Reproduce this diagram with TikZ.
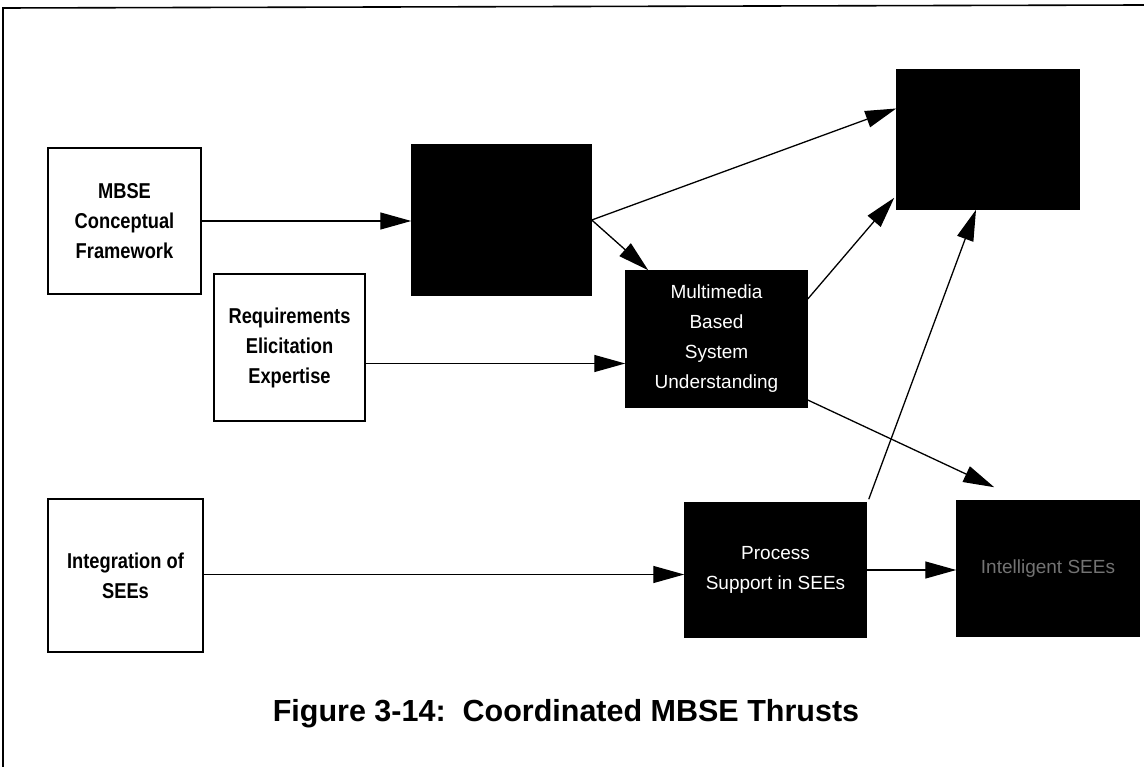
\documentclass[tikz,border=0pt]{standalone}
\usepackage{fontspec}
\setmainfont{Liberation Sans}
\newfontfamily\narrowfont{Liberation Sans}[FakeStretch=0.85]
\usetikzlibrary{arrows.meta,calc}

\tikzset{
  lightbox/.style={draw=black, line width=1.8pt, fill=white, inner sep=0pt,
    font=\narrowfont\bfseries\fontsize{21.5}{30}\selectfont, align=center},
  darkbox/.style={draw=black, line width=1.5pt, fill=black, inner sep=0pt,
    text=white, font=\fontsize{19}{30}\selectfont, align=center},
  flow/.style={line width=1.3pt, -{Triangle[length=31pt,width=17pt]}},
}

\begin{document}
\begin{tikzpicture}[x=1pt, y=-1pt]
  \useasboundingbox (0,0) rectangle (1144,767);

  % page frame (top and left edges only)
  \draw[line width=1.6pt] (3,767) -- (3,8) -- (1144,5);

  % light boxes
  \node[lightbox, minimum width=153pt, minimum height=146pt] (A) at (124.5,221)
    {MBSE\\Conceptual\\Framework};
  \node[lightbox, minimum width=151pt, minimum height=147pt] (B) at (289.5,347.5)
    {Requirements\\Elicitation\\Expertise};
  \node[lightbox, minimum width=155pt, minimum height=153pt] (C) at (125.5,575.5)
    {Integration of\\SEEs};

  % dark boxes
  \node[darkbox, minimum width=179pt, minimum height=150pt] (D) at (501.5,220) {};
  \node[darkbox, minimum width=182pt, minimum height=139pt] (E) at (988,139.5) {};
  \node[darkbox, minimum width=181pt, minimum height=136pt] (F) at (716.5,339)
    {Multimedia\\Based\\System\\Understanding};
  \node[darkbox, minimum width=181pt, minimum height=134pt] (G) at (775.5,570)
    {Process\\Support in SEEs};
  \node[darkbox, minimum width=182pt, minimum height=135pt, text=black!55] (H)
    at (1048,568.5) {Intelligent SEEs};

  % connector end points off the node centres
  \coordinate (b1) at ($(B.east)+(0,16)$);
  \coordinate (c1) at ($(C.east)+(0,-1)$);

  % connectors
  \draw[flow] (A.east) -- (A.east -| D.west);
  \draw[flow] (D.east) -- ($(E.west)+(0,-31)$);
  \draw[flow] (D.east) -- ($(F.north west)+(23,0)$);
  \draw[flow] (b1) -- (b1 -| F.west);
  \draw[flow] ($(F.east)+(0,-40)$) -- ($(E.south west)+(-2,-12)$);
  \draw[flow] ($(F.east)+(0,61)$) -- ($(H.north west)+(38,-13)$);
  \draw[flow] ($(G.north east)+(2,-3)$) -- ($(E.south)+(-12,0)$);
  \draw[flow] (c1) -- (c1 -| G.west);
  \draw[flow] (G.east) -- (G.east -| H.west);

  % caption
  \node[font=\bfseries\fontsize{30.5}{34}\selectfont] (cap) at (566,714)
    {Figure 3-14:\ \ Coordinated MBSE Thrusts};
\end{tikzpicture}
\end{document}
